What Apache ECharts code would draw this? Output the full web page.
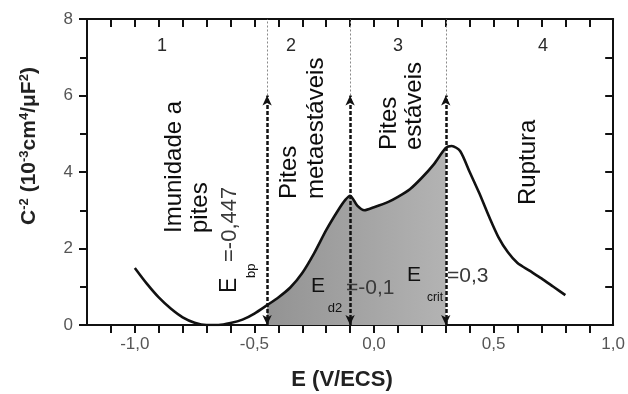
<!DOCTYPE html>
<html>
<head>
<meta charset="utf-8">
<script src="https://cdn.jsdelivr.net/npm/echarts@6/dist/echarts.min.js"></script>
<style>
  html, body { margin: 0; padding: 0; background: #ffffff; }
  #chart { width: 628px; height: 394px; }
</style>
</head>
<body>
<div id="chart"></div>
<script>
// Mott-Schottky curve: potential E (V/ECS) and C^-2 (10^-3 cm^4/uF^2)
const potential = [-1.0, -0.95, -0.9, -0.85, -0.8, -0.75, -0.7, -0.65, -0.6, -0.55, -0.5,
  -0.447, -0.4, -0.35, -0.3, -0.25, -0.2, -0.15, -0.12, -0.1, -0.07, -0.04, 0.0, 0.06, 0.1,
  0.15, 0.2, 0.25, 0.3, 0.325, 0.36, 0.4, 0.44, 0.48, 0.52, 0.56, 0.6, 0.65, 0.7, 0.75, 0.8];
const capInvSq = [1.49, 1.08, 0.72, 0.43, 0.2, 0.06, 0.0, 0.0, 0.05, 0.14, 0.3,
  0.52, 0.72, 0.98, 1.36, 1.88, 2.48, 3.0, 3.27, 3.38, 3.12, 3.0, 3.08, 3.22, 3.35,
  3.55, 3.85, 4.2, 4.63, 4.68, 4.55, 4.0, 3.45, 2.85, 2.3, 1.9, 1.62, 1.42, 1.22, 1.0, 0.78];

// Characteristic potentials (E_bp, E_d2, E_crit) and the height of their arrows
const boundaries = [-0.447, -0.1, 0.3];
const arrowTop = 6;
const boundaryText = [['E', 'bp', '=-0,447'], ['E', 'd2', '=-0,1'], ['E', 'crit', '=0,3']];

// Axis ticks
const xMajorTicks = [-1.0, -0.5, 0.0, 0.5, 1.0];
const xMinorTicks = [-1.1, -1.0, -0.9, -0.8, -0.7, -0.6, -0.5, -0.4, -0.3, -0.2, -0.1,
  0.0, 0.1, 0.2, 0.3, 0.4, 0.5, 0.6, 0.7, 0.8, 0.9];
const yLabelStep = 2;

// Region captions
const regionNumbers = ['1', '2', '3', '4'];
const regionNotes = [['Imunidade a', 'pites'], ['Pites', 'metaestáveis'], ['Pites', 'estáveis'], ['Ruptura']];

const FONT = '"Liberation Sans", Arial, Helvetica, sans-serif';
const INK = '#111111';

const curve = potential.map((e, i) => [e, capInvSq[i]]);
const shaded = curve.filter(p => p[0] >= boundaries[0] - 1e-9 && p[0] <= boundaries[2] + 1e-9);

const fmt = v => (Math.abs(v) < 1e-9 ? 0 : v).toFixed(1).replace('.', ',');
const frameLine = () => ({ show: true, onZero: false, lineStyle: { color: INK, width: 2 } });
const tickStyle = () => ({ color: INK, width: 2 });

function vtext(x, y, text, size, color, weight) {
  return {
    type: 'text', x: x, y: y, rotation: Math.PI / 2, silent: true, z: 100,
    style: { text: text, fontSize: size, fontFamily: FONT, fontWeight: weight || 'normal',
      fill: color, align: 'left', verticalAlign: 'middle' }
  };
}
function htext(x, y, text, size, color, align, weight) {
  return {
    type: 'text', x: x, y: y, silent: true, z: 100,
    style: { text: text, fontSize: size, fontFamily: FONT, fontWeight: weight || 'normal',
      fill: color, align: align || 'center', verticalAlign: 'middle' }
  };
}

const graphics = [];
// region numbers
[162, 291, 398, 543].forEach((x, i) => graphics.push(htext(x, 46, regionNumbers[i], 18, '#2a2a2a')));
// rotated region descriptions
const noteLayout = [[[174, 200], 233], [[289, 316], 199], [[389, 414], 150], [[528], 205]];
noteLayout.forEach((cfg, i) => {
  cfg[0].forEach((x, j) => graphics.push(vtext(x, cfg[1], regionNotes[i][j], 24, '#0d0d0d')));
});
// E_bp (rotated)
graphics.push(vtext(230, 293, boundaryText[0][0], 23, '#111'));
graphics.push(vtext(251, 278, boundaryText[0][1], 13, '#111'));
graphics.push(vtext(230, 262, boundaryText[0][2], 22, '#3a3a3a'));
// E_d2
graphics.push(htext(318, 286, boundaryText[1][0], 21, '#111'));
graphics.push(htext(335, 308, boundaryText[1][1], 13, '#111'));
graphics.push(htext(346, 288, boundaryText[1][2], 21, '#3a3a3a', 'left'));
// E_crit
graphics.push(htext(414, 275, boundaryText[2][0], 21, '#111'));
graphics.push(htext(435, 298, boundaryText[2][1], 12, '#111'));
graphics.push(htext(447, 276, boundaryText[2][2], 21, '#3a3a3a', 'left'));
// axis names
graphics.push({
  type: 'text', x: 29, y: 146, rotation: Math.PI / 2, silent: true, z: 100,
  style: {
    text: '{b|C}{s|-2}{b| (10}{s|-3}{b|cm}{s|4}{b|/μF}{s|2}{b|)}',
    align: 'center', verticalAlign: 'middle',
    rich: {
      b: { fontSize: 21, fontWeight: 'bold', fontFamily: FONT, fill: '#222', lineHeight: 23 },
      s: { fontSize: 13, fontWeight: 'bold', fontFamily: FONT, fill: '#222', verticalAlign: 'top', lineHeight: 23 }
    }
  }
});
graphics.push(htext(342, 380, 'E (V/ECS)', 22, '#222', 'center', 'bold'));

const option = {
  animation: false,
  backgroundColor: '#ffffff',
  grid: { left: 87, top: 19, width: 529, height: 306 },
  xAxis: [
    { type: 'value', min: -1.2, max: 1.0, position: 'bottom', axisLine: frameLine(),
      splitLine: { show: false },
      axisTick: { show: true, length: 8, customValues: xMinorTicks, lineStyle: tickStyle() },
      axisLabel: { customValues: xMajorTicks, formatter: fmt, color: '#555', fontSize: 17,
        fontFamily: FONT, margin: 11 } },
    { type: 'value', min: -1.2, max: 1.0, interval: 0.1, position: 'top', axisLine: frameLine(),
      splitLine: { show: false },
      axisTick: { show: true, inside: true, length: 8, lineStyle: tickStyle() }, axisLabel: { show: false } }
  ],
  yAxis: [
    { type: 'value', min: 0, max: 8, interval: yLabelStep, position: 'left', axisLine: frameLine(),
      splitLine: { show: false },
      axisTick: { show: true, length: 8, lineStyle: tickStyle() },
      minorTick: { show: true, splitNumber: 2, length: 7, lineStyle: tickStyle() },
      axisLabel: { color: '#555', fontSize: 17, fontFamily: FONT, margin: 14 } },
    { type: 'value', min: 0, max: 8, interval: 1, position: 'right', axisLine: frameLine(),
      splitLine: { show: false },
      axisTick: { show: true, inside: true, length: 8, lineStyle: tickStyle() }, axisLabel: { show: false } }
  ],
  series: [
    {
      name: 'area', type: 'line', data: shaded, xAxisIndex: 0, yAxisIndex: 0,
      symbol: 'none', smooth: 0.25, z: 1, silent: true,
      lineStyle: { width: 0, opacity: 0 },
      areaStyle: {
        origin: 'start', opacity: 1,
        color: new echarts.graphic.LinearGradient(0, 0, 1, 0, [
          { offset: 0, color: '#939393' }, { offset: 0.5, color: '#a3a3a3' }, { offset: 1, color: '#b3b3b3' }
        ])
      },
      markLine: {
        silent: true, symbol: 'none', label: { show: false },
        lineStyle: { color: '#8a8a8a', width: 1, type: [2, 2] },
        data: boundaries.map(b => [{ coord: [b, arrowTop] }, { coord: [b, 8] }])
      }
    },
    {
      name: 'curve', type: 'line', data: curve, xAxisIndex: 0, yAxisIndex: 0,
      symbol: 'none', smooth: 0.25, z: 3, silent: true,
      lineStyle: { color: INK, width: 2.6 },
      markLine: {
        silent: true, symbol: ['arrow', 'arrow'], symbolSize: [7, 10], label: { show: false },
        lineStyle: { color: INK, width: 2.5, type: [4, 2] },
        data: boundaries.map(b => [{ coord: [b, 0] }, { coord: [b, arrowTop] }])
      }
    }
  ],
  graphic: graphics
};

const chart = echarts.init(document.getElementById('chart'));
chart.setOption(option);
</script>
</body>
</html>
